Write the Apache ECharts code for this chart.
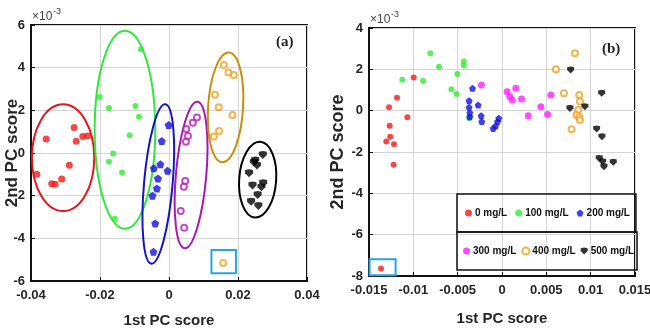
<!DOCTYPE html>
<html>
<head>
<meta charset="UTF-8">
<script src="https://cdn.jsdelivr.net/npm/echarts@6/dist/echarts.min.js"></script>
<style>
  body { margin: 0; background: #fff; }
  #chart { width: 650px; height: 331px; }
</style>
</head>
<body>
<div id="chart"></div>
<script>
// panel (a): [1st PC, 2nd PC (x1e-3)]
var a0   = [[-0.0383,-1.0],[-0.0356,0.66],[-0.034,-1.44],[-0.033,-1.47],[-0.0311,-1.22],[-0.0289,-0.58],[-0.0275,1.19],[-0.0269,0.55],[-0.025,0.77],[-0.0236,0.8]];
var a100 = [[-0.0201,2.63],[-0.0174,2.11],[-0.0081,4.86],[-0.0097,2.2],[-0.0087,1.7],[-0.0114,0.83],[-0.0162,-0.02],[-0.0174,-0.41],[-0.0136,-0.91],[-0.0157,-3.08]];
var a200 = [[-0.0001,1.31],[-0.0021,0.56],[-0.0044,-0.72],[-0.0025,-0.53],[-0.0004,-0.83],[-0.0032,-1.19],[-0.0035,-1.66],[-0.0048,-2.0],[-0.004,-3.3],[-0.0045,-4.63]];
var a300 = [[0.0081,1.66],[0.0069,1.42],[0.005,1.13],[0.0055,0.8],[0.0049,0.53],[0.0047,-1.31],[0.0043,-1.58],[0.0034,-2.72],[0.0044,-3.5]];
var a400 = [[0.0159,4.13],[0.0172,3.77],[0.0188,3.66],[0.0133,2.73],[0.0144,2.14],[0.0184,1.78],[0.0145,1.03],[0.013,0.77],[0.0157,-5.16]];
var a500 = [[0.0272,-0.09],[0.0246,-0.44],[0.0255,-0.59],[0.0232,-0.95],[0.0242,-1.52],[0.0273,-1.42],[0.0268,-1.61],[0.0257,-1.97],[0.0238,-2.28],[0.0259,-2.48],[0.025,-0.35]];

// panel (b)
var b0   = [[-0.00996,1.6],[-0.01184,0.63],[-0.01274,0.16],[-0.01067,-0.32],[-0.01267,-0.73],[-0.0126,-1.26],[-0.01305,-1.49],[-0.01218,-1.62],[-0.01222,-2.62],[-0.01365,-7.64]];
var b100 = [[-0.01124,1.49],[-0.0089,1.44],[-0.00808,2.78],[-0.0071,2.13],[-0.00431,2.38],[-0.00431,2.18],[-0.00503,1.78],[-0.0057,1.04],[-0.00514,0.81],[-0.0037,-0.37]];
var b200 = [[-0.00333,1.08],[-0.00371,0.48],[-0.00371,0.16],[-0.00363,-0.1],[-0.00363,-0.29],[-0.00269,0.27],[-0.00235,-0.24],[-0.00228,-0.53],[-0.001,-0.86],[-0.00073,-0.74],[-0.00051,-0.53],[-0.00036,-0.37]];
var b300 = [[-0.00232,1.24],[0.00058,0.92],[0.00115,0.52],[0.00088,0.68],[0.00156,1.08],[0.0022,0.57],[0.00296,-0.24],[0.00439,0.19],[0.00514,-0.18],[0.00552,0.76]];
var b400 = [[0.00823,2.78],[0.00608,2.0],[0.00698,0.84],[0.00871,0.76],[0.00879,0.44],[0.0086,0.03],[0.00841,-0.21],[0.00871,-0.32],[0.00879,-0.45],[0.00785,-0.9]];
var b500 = [[0.00774,1.97],[0.00766,0.11],[0.00935,0.19],[0.01124,0.84],[0.01067,-0.89],[0.01127,-1.26],[0.01097,-2.31],[0.01135,-2.47],[0.0115,-2.71],[0.01255,-2.5]];

var names = ['0 mg/L', '100 mg/L', '200 mg/L', '300 mg/L', '400 mg/L', '500 mg/L'];

// cluster ellipses in (a): [cx, cy, rx, ry, rotation deg]
var ellipsesA = [[-0.0307,-0.22,0.00904,2.5,0],[-0.01277,1.09,0.00878,4.64,0],[-0.0031,-1.45,0.00414,3.75,-5],[0.0064,-1.03,0.0044,3.45,-5],[0.0164,2.14,0.00507,2.58,-3.5],[0.0257,-1.25,0.00536,1.78,-4]];
var ellipseColors = ['#e8141c', '#2ee83a', '#1414c8', '#a818b0', '#c8900c', '#000000'];
// outlier boxes: [x0, x1, y0, y1]
var boxA = [[0.0123,0.0194,-4.55,-5.64]];
var boxB = [[-0.01493,-0.012,-7.19,-7.96]];

var pentUp = 'path://M5,0 L10,4 L8,10 L2,10 L0,4 Z';
var pentDown = 'path://M0,1 L5,0 L10,1 L10,5 L5,10 L0,5 Z';

var txt = '#262626';
var labelFont = 'Liberation Sans, Arial, sans-serif';

function xAxis(idx, min, max, step, gap) {
    return {
        type: 'value', gridIndex: idx, min: min, max: max, interval: step,
        name: '1st PC score', nameLocation: 'middle', nameGap: gap,
        nameTextStyle: { fontSize: 15, fontWeight: 'bold', color: txt, fontFamily: labelFont },
        axisLine: { onZero: false, lineStyle: { color: '#111', width: 2 } },
        axisTick: { inside: true, length: 4, lineStyle: { color: '#111' } },
        axisLabel: { fontSize: 13, fontWeight: 'bold', color: txt, fontFamily: labelFont, margin: 8 },
        splitLine: { lineStyle: { color: '#d4d4d4' } }
    };
}
function yAxis(idx, min, max, gap, size) {
    return {
        type: 'value', gridIndex: idx, min: min, max: max, interval: 2,
        name: '2nd PC score', nameLocation: 'middle', nameGap: gap, nameMoveOverlap: false,
        nameTextStyle: { fontSize: size, fontWeight: 'bold', color: txt, fontFamily: labelFont },
        axisLine: { onZero: false, lineStyle: { color: '#111', width: 2 } },
        axisTick: { inside: true, length: 4, lineStyle: { color: '#111' } },
        axisLabel: { fontSize: 13, fontWeight: 'bold', color: txt, fontFamily: labelFont, margin: 6 },
        splitLine: { lineStyle: { color: '#d4d4d4' } }
    };
}

function scatter(name, data, grid, color, symbol, size, ring) {
    return {
        type: 'scatter', name: name, xAxisIndex: grid, yAxisIndex: grid, data: data,
        symbol: symbol, symbolSize: size,
        itemStyle: ring ? { color: '#fff', borderColor: color, borderWidth: 2 } : { color: color }
    };
}

function ellipseSeries(data) {
    return {
        type: 'custom', xAxisIndex: 0, yAxisIndex: 0, data: data, silent: true, z: 1,
        renderItem: function (params, api) {
            var c = api.coord([api.value(0), api.value(1)]);
            var s = api.size([api.value(2), api.value(3)]);
            return {
                type: 'ellipse', x: c[0], y: c[1],
                rotation: api.value(4) * Math.PI / 180,
                shape: { cx: 0, cy: 0, rx: s[0], ry: s[1] },
                style: { fill: 'none', stroke: ellipseColors[params.dataIndex], lineWidth: 2 }
            };
        }
    };
}

function boxSeries(data, grid) {
    return {
        type: 'custom', xAxisIndex: grid, yAxisIndex: grid, data: data, silent: true, z: 1,
        renderItem: function (params, api) {
            var p0 = api.coord([api.value(0), api.value(2)]);
            var p1 = api.coord([api.value(1), api.value(3)]);
            return {
                type: 'rect',
                shape: { x: p0[0], y: p0[1], width: p1[0] - p0[0], height: p1[1] - p0[1] },
                style: { fill: 'none', stroke: '#29a3e6', lineWidth: 2 }
            };
        }
    };
}

var legendText = { fontSize: 10, fontWeight: 'bold', color: '#111', fontFamily: labelFont, padding: [0, 0, 0, -2] };

var chart = echarts.init(document.getElementById('chart'));
chart.setOption({
    animation: false,
    grid: [
        { left: 31, right: 343, top: 25, bottom: 50, show: true, borderColor: '#111', borderWidth: 2, outerBoundsMode: 'none' },
        { left: 369, right: 15, top: 28, bottom: 55, show: true, borderColor: '#111', borderWidth: 2, outerBoundsMode: 'none' }
    ],
    xAxis: [xAxis(0, -0.04, 0.04, 0.02, 32), xAxis(1, -0.015, 0.015, 0.005, 35)],
    yAxis: [yAxis(0, -6, 6, 10, 17), yAxis(1, -8, 4, 22, 18)],
    legend: [
        {
            data: names.slice(0, 3), left: 457, top: 194, width: 300,
            itemWidth: 7, itemHeight: 8, itemGap: 8, padding: [14, 6, 14, 8],
            borderColor: '#111', borderWidth: 1.5, textStyle: legendText
        },
        {
            data: names.slice(3), left: 457, top: 232, width: 300,
            itemWidth: 7, itemHeight: 8, itemGap: 5, padding: [14, 3, 14, 6],
            borderColor: '#111', borderWidth: 1.5, textStyle: legendText
        }
    ],
    graphic: [
        { type: 'text', left: 32, top: 11, style: { text: '\u00d710', fontSize: 12, fill: '#444', fontFamily: labelFont } },
        { type: 'text', left: 53, top: 7, style: { text: '-3', fontSize: 9, fill: '#444', fontFamily: labelFont } },
        { type: 'text', left: 370, top: 14, style: { text: '\u00d710', fontSize: 12, fill: '#444', fontFamily: labelFont } },
        { type: 'text', left: 391, top: 10, style: { text: '-3', fontSize: 9, fill: '#444', fontFamily: labelFont } },
        { type: 'text', left: 276, top: 35, style: { text: '(a)', fontSize: 15, fontWeight: 'bold', fill: '#222', fontFamily: 'Liberation Serif, Times New Roman, serif' } },
        { type: 'text', left: 602, top: 42, style: { text: '(b)', fontSize: 15, fontWeight: 'bold', fill: '#222', fontFamily: 'Liberation Serif, Times New Roman, serif' } }
    ],
    series: [
        ellipseSeries(ellipsesA),
        boxSeries(boxA, 0),
        boxSeries(boxB, 1),
        scatter('a0', a0, 0, '#f01c1c', 'circle', 7),
        scatter('a100', a100, 0, '#30ee30', 'circle', 6),
        scatter('a200', a200, 0, '#1010e0', pentUp, 8),
        scatter('a300', a300, 0, '#b020b8', 'circle', 6, true),
        scatter('a400', a400, 0, '#f0a020', 'circle', 6, true),
        scatter('a500', a500, 0, '#000000', pentDown, 8),
        scatter(names[0], b0, 1, '#f01c1c', 'circle', 6),
        scatter(names[1], b100, 1, '#30ee30', 'circle', 6),
        scatter(names[2], b200, 1, '#1010e0', pentUp, 7),
        scatter(names[3], b300, 1, '#ff20ff', 'circle', 7),
        scatter(names[4], b400, 1, '#f0a020', 'circle', 6, true),
        scatter(names[5], b500, 1, '#000000', pentDown, 7)
    ]
});
</script>
</body>
</html>
